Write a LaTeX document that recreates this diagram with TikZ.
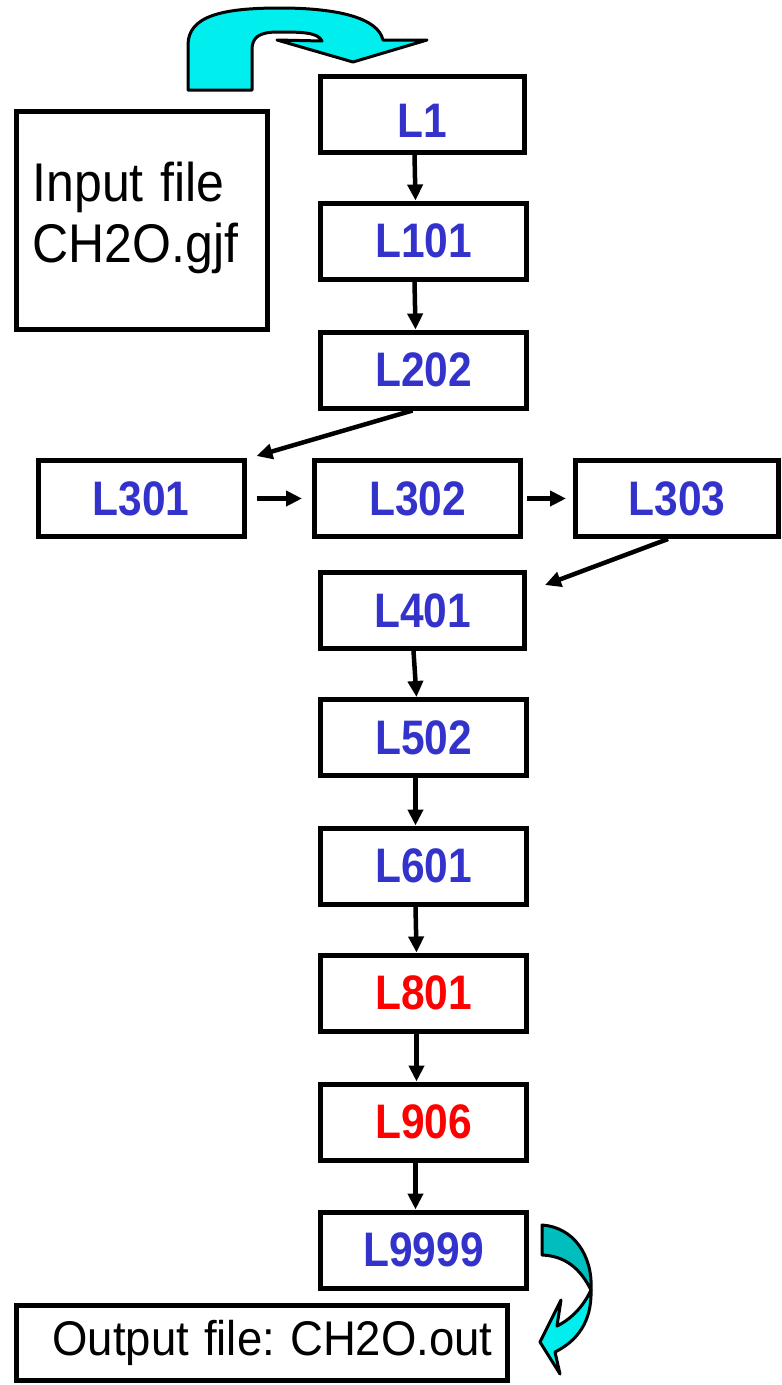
\documentclass[tikz,border=0pt]{standalone}
\usepackage{fontspec}
\setmainfont{Liberation Sans}
\usetikzlibrary{arrows.meta}
\definecolor{lblue}{RGB}{51,51,204}
\definecolor{lred}{RGB}{255,0,0}
\definecolor{cyanA}{RGB}{0,238,238}
\definecolor{cyanB}{RGB}{0,190,190}
\newcommand\lab[1]{\scalebox{1}[1.14]{#1}}
\frenchspacing
\tikzset{
  box/.style={draw, line width=5pt, minimum width=206pt, minimum height=76pt, inner sep=0pt},
  lbox/.style={box, text=lblue, font=\fontsize{42.5}{49}\selectfont\bfseries},
  rbox/.style={lbox, text=lred},
  conn/.style={line width=4.5pt, -{Triangle[length=16pt,width=15pt]}},
  curl/.style={draw=black, line width=3pt, line join=round}
}
\begin{document}
\begin{tikzpicture}[x=1pt,y=-1pt]
\useasboundingbox (0,0) rectangle (782,1385);
% boxes
\node[box, minimum width=251pt, minimum height=218pt, inner xsep=16pt, text width=219pt, align=left,
      font=\fontsize{50}{54}\selectfont] (in) at (142,220)
      {\scalebox{1}[1.09]{\begin{tabular}{@{}l@{}}Input file\\[2pt]CH2O.gjf\end{tabular}}};
\node[lbox, minimum width=204pt] (L1) at (422.5,114.5) {\raisebox{-6pt}[\height][\depth]{\lab{L1}}};
\node[lbox] (L101) at (423.5,241) {\lab{L101}};
\node[lbox] (L202) at (423.5,370) {\lab{L202}};
\node[lbox] (L301) at (141,498.5) {\lab{L301}};
\node[lbox] (L302) at (417.5,498.5) {\lab{L302}};
\node[lbox, minimum width=203pt] (L303) at (677,498.5) {\lab{L303}};
\node[lbox, minimum width=204pt] (L401) at (422.5,610.5) {\lab{L401}};
\node[lbox] (L502) at (423.5,737.5) {\lab{L502}};
\node[lbox] (L601) at (423.5,866) {\lab{L601}};
\node[rbox] (L801) at (423.5,993) {\lab{L801}};
\node[rbox] (L906) at (423.5,1122) {\lab{L906}};
\node[lbox] (L9999) at (423.5,1250) {\lab{L9999}};
\node[box, minimum width=491pt, minimum height=75pt, inner xsep=36pt, text width=419pt, align=left,
      font=\fontsize{45.5}{50}\selectfont] (out) at (262,1343)
      {\scalebox{1}[1.07]{Output file: CH2O.out}};
% connectors
\draw[conn] ([xshift=-8pt]L1.south) -- ([xshift=-8pt]L101.north);
\draw[conn] ([xshift=-9pt]L101.south) -- ([xshift=-8pt]L202.north);
\draw[conn] ([xshift=-11pt]L202.south) -- ([shift={(10pt,2pt)}]L301.north east);
\draw[conn] ([xshift=10pt]L301.east) -- ([xshift=-10pt]L302.west);
\draw[conn] ([xshift=4pt]L302.east) -- ([xshift=-7pt]L303.west);
\draw[conn] ([xshift=-9pt]L303.south) -- ([shift={(18pt,-15pt)}]L401.north east);
\draw[conn] ([xshift=-9pt]L401.south) -- ([xshift=-7pt]L502.north);
\draw[conn] ([xshift=-8pt]L502.south) -- ([xshift=-8pt]L601.north);
\draw[conn] ([xshift=-8pt]L601.south) -- ([xshift=-7pt]L801.north);
\draw[conn] ([xshift=-7pt]L801.south) -- ([xshift=-7pt]L906.north);
\draw[conn] ([xshift=-8pt]L906.south) -- ([xshift=-8pt]L9999.north);
% top U-turn arrow
\filldraw[curl, fill=cyanA] (188,90) -- (188,45) .. controls (188,16) and (222,8) .. (280,8)
  .. controls (338,8) and (378,18) .. (383,40) -- (427,40) -- (353,62) -- (277,40) -- (322,41)
  .. controls (318,32) and (300,32) .. (278,32) .. controls (258,32) and (252,38) .. (252,50)
  -- (252,90) -- cycle;
% bottom curled arrow
\filldraw[curl, fill=cyanA] (591,1290) .. controls (592,1322) and (577,1341) .. (555,1352)
  -- (560,1374) -- (540,1342) -- (561,1300) -- (557,1326)
  .. controls (573,1318) and (584,1305) .. (591,1290) -- cycle;
\filldraw[curl, fill=cyanB] (542,1225) .. controls (573,1227) and (593,1255) .. (591,1290)
  .. controls (580,1268) and (565,1256) .. (542,1255) -- cycle;
\end{tikzpicture}
\end{document}
